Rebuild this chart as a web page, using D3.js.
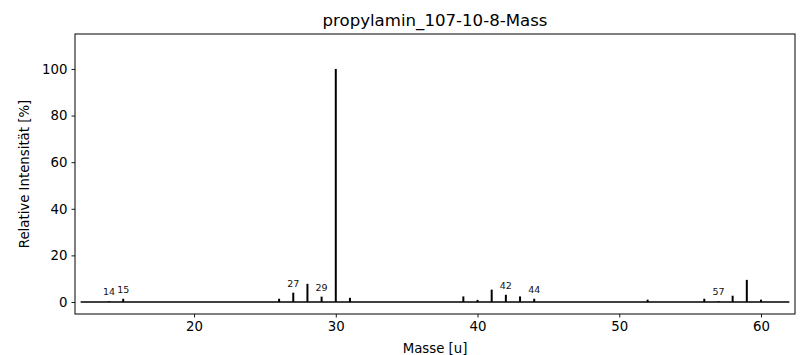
<!doctype html>
<html>
<head>
  <meta charset="utf-8">
  <style>
    html, body { margin: 0; padding: 0; background: #fff; }
    svg { display: block; font-family: "DejaVu Sans", sans-serif; }
    .tick text { font-size: 13.3px; fill: #000; }
    .tick line { stroke: #000; stroke-width: 0.9px; }
  </style>
  <script src="https://cdn.jsdelivr.net/npm/d3@7"></script>
</head>
<body>
  <svg id="chart" width="807" height="355"></svg>
  <script>
    // peaks
    var masses = [14, 15, 26, 27, 28, 29, 30, 31, 39, 40, 41, 42, 43, 44, 52, 56, 57, 58, 59, 60];
    var intensities = [0.3, 1.4, 1.4, 4, 7.8, 2.3, 100, 1.8, 2.4, 0.9, 5.3, 3.1, 2.4, 1.4, 1, 1.4, 0.3, 2.7, 9.5, 1];
    var labeled = [14, 15, 27, 29, 42, 44, 57];
    var xTicks = [20, 30, 40, 50, 60];
    var yTicks = [0, 20, 40, 60, 80, 100];
    var baseRange = [12, 62];

    var svg = d3.select('#chart');
    var plotLeft = 75, plotRight = 795, plotTop = 34, plotBottom = 314;

    var x = d3.scaleLinear().domain([11.6, 62.4]).range([plotLeft, plotRight]);
    var y = d3.scaleLinear().domain([-5.15, 115]).range([plotBottom, plotTop]);

    var peaks = masses.map(function(m, i) { return {m: m, v: intensities[i]}; });

    // baseline
    svg.append('line')
        .attr('x1', x(baseRange[0])).attr('x2', x(baseRange[1]))
        .attr('y1', y(0)).attr('y2', y(0))
        .attr('stroke', '#000').attr('stroke-width', 1.3);

    svg.selectAll('line.peak')
        .data(peaks)
        .enter().append('line')
        .attr('class', 'peak')
        .attr('x1', function(d) { return x(d.m); })
        .attr('x2', function(d) { return x(d.m); })
        .attr('y1', y(0))
        .attr('y2', function(d) { return y(d.v); })
        .attr('stroke', '#000')
        .attr('stroke-width', 2);

    svg.selectAll('text.lbl')
        .data(peaks.filter(function(d) { return labeled.indexOf(d.m) >= 0; }))
        .enter().append('text')
        .attr('class', 'lbl')
        .attr('x', function(d) { return x(d.m); })
        .attr('y', function(d) { return y(d.v) - 6; })
        .attr('text-anchor', 'middle')
        .style('font-size', '9.5px')
        .style('fill', '#111')
        .text(function(d) { return d.m; });

    // axes
    svg.append('g')
        .attr('transform', 'translate(0,' + plotBottom + ')')
        .call(d3.axisBottom(x).tickValues(xTicks).tickSize(3.5).tickPadding(4).tickFormat(d3.format('d')))
        .call(function(g) { g.select('.domain').remove(); g.attr('font-family', null); });

    svg.append('g')
        .attr('transform', 'translate(' + plotLeft + ',0)')
        .call(d3.axisLeft(y).tickValues(yTicks).tickSize(3.5).tickPadding(4).tickFormat(d3.format('d')))
        .call(function(g) { g.select('.domain').remove(); g.attr('font-family', null); });

    svg.append('rect')
        .attr('x', plotLeft).attr('y', plotTop)
        .attr('width', plotRight - plotLeft).attr('height', plotBottom - plotTop)
        .attr('fill', 'none').attr('stroke', '#000').attr('stroke-width', 1);

    svg.append('text')
        .attr('x', (plotLeft + plotRight) / 2).attr('y', 26)
        .attr('text-anchor', 'middle')
        .style('font-size', '16.6px')
        .text('propylamin_107-10-8-Mass');

    svg.append('text')
        .attr('x', (plotLeft + plotRight) / 2).attr('y', 353)
        .attr('text-anchor', 'middle')
        .style('font-size', '13.3px')
        .text('Masse [u]');

    svg.append('text')
        .attr('transform', 'translate(29,' + (plotTop + plotBottom) / 2 + ') rotate(-90)')
        .attr('text-anchor', 'middle')
        .style('font-size', '13.3px')
        .text('Relative Intensität [%]');
  </script>
</body>
</html>
